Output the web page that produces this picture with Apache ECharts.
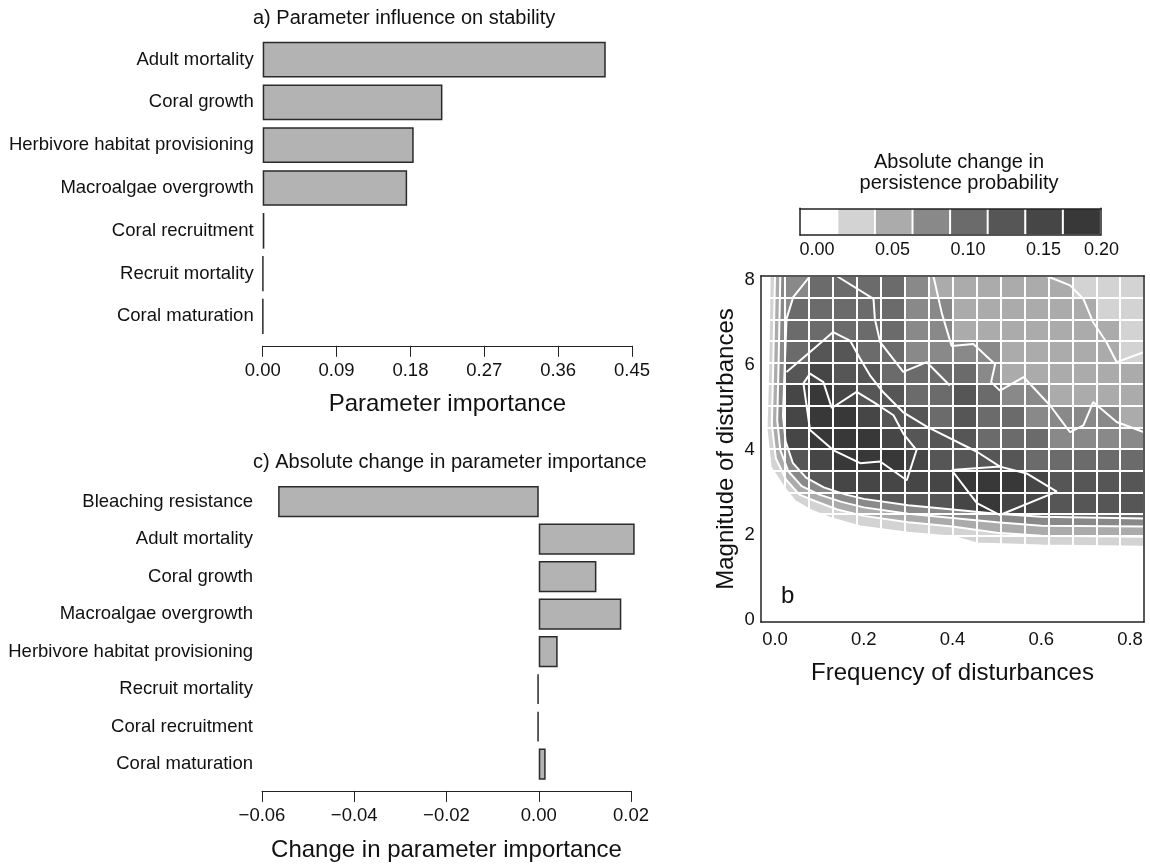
<!DOCTYPE html>
<html><head><meta charset="utf-8">
<script src="https://cdn.jsdelivr.net/npm/echarts@6.0.0/dist/echarts.min.js"></script>
<style>html,body{margin:0;padding:0;background:#fff}#c{width:1150px;height:865px}</style>
</head><body><div id="c"></div><script>
// ---------- Panel a ----------
const paramsA = ['Adult mortality','Coral growth','Herbivore habitat provisioning','Macroalgae overgrowth','Coral recruitment','Recruit mortality','Coral maturation'];
const importanceA = [0.418, 0.219, 0.184, 0.176, 0.002, 0.0005, 0.0004];
// ---------- Panel c ----------
const paramsC = ['Bleaching resistance','Adult mortality','Coral growth','Macroalgae overgrowth','Herbivore habitat provisioning','Recruit mortality','Coral recruitment','Coral maturation'];
const changeC = [-0.0565, 0.0208, 0.0125, 0.0179, 0.0041, -0.0003, -0.0003, 0.0015];
// ---------- Panel b ----------
const freqTicks = [0.0, 0.2, 0.4, 0.6, 0.8];
const magTicks = [0, 2, 4, 6, 8];
const freqCells = [-0.005,0.049,0.103,0.157,0.211,0.265,0.319,0.373,0.427,0.481,0.535,0.589,0.643,0.697,0.751,0.805];
const magCells = [0.20,0.71,1.22,1.73,2.24,2.75,3.26,3.77,4.28,4.78,5.29,5.80,6.31,6.82,7.33,7.84];
// absolute change in persistence probability per cell, rows from magnitude 7.84 (top) to 0.20 (bottom)
const mag784 = [0.04,0.09,0.11,0.11,0.11,0.11,0.09,0.06,0.06,0.06,0.06,0.06,0.06,0.04,0.04,0.04];
const mag733 = [0.04,0.11,0.11,0.11,0.11,0.11,0.09,0.09,0.06,0.06,0.06,0.06,0.06,0.06,0.04,0.04];
const mag682 = [0.06,0.11,0.11,0.11,0.11,0.11,0.09,0.09,0.06,0.06,0.06,0.06,0.06,0.06,0.06,0.04];
const mag631 = [0.06,0.11,0.14,0.14,0.11,0.11,0.09,0.09,0.09,0.09,0.06,0.06,0.06,0.06,0.06,0.04];
const mag580 = [0.06,0.14,0.16,0.14,0.14,0.11,0.11,0.11,0.11,0.09,0.06,0.06,0.06,0.06,0.06,0.06];
const mag529 = [0.09,0.16,0.19,0.16,0.14,0.14,0.11,0.11,0.14,0.11,0.09,0.09,0.06,0.06,0.06,0.06];
const mag478 = [0.09,0.16,0.19,0.19,0.16,0.14,0.14,0.11,0.14,0.11,0.11,0.09,0.09,0.09,0.09,0.06];
const mag428 = [0.09,0.16,0.19,0.19,0.19,0.16,0.14,0.14,0.14,0.11,0.11,0.11,0.09,0.09,0.09,0.09];
const mag377 = [0.09,0.14,0.16,0.19,0.19,0.19,0.16,0.14,0.14,0.14,0.14,0.11,0.11,0.11,0.11,0.11];
const mag326 = [0.06,0.11,0.14,0.16,0.16,0.16,0.16,0.16,0.19,0.19,0.19,0.16,0.14,0.14,0.14,0.14];
const mag275 = [0.04,0.06,0.11,0.14,0.14,0.14,0.14,0.14,0.16,0.19,0.16,0.16,0.14,0.14,0.14,0.14];
const mag224 = [0.01,0.04,0.06,0.09,0.11,0.11,0.11,0.11,0.11,0.11,0.11,0.11,0.11,0.11,0.11,0.11];
const mag173 = [0.01,0.01,0.01,0.04,0.04,0.04,0.04,0.04,0.04,0.04,0.04,0.04,0.04,0.04,0.04,0.04];
const mag122 = [0.01,0.01,0.01,0.01,0.01,0.01,0.01,0.01,0.01,0.01,0.01,0.01,0.01,0.01,0.01,0.01];
const mag071 = [0.01,0.01,0.01,0.01,0.01,0.01,0.01,0.01,0.01,0.01,0.01,0.01,0.01,0.01,0.01,0.01];
const mag020 = [0.01,0.01,0.01,0.01,0.01,0.01,0.01,0.01,0.01,0.01,0.01,0.01,0.01,0.01,0.01,0.01];
const rowsTopDown = [mag784,mag733,mag682,mag631,mag580,mag529,mag478,mag428,mag377,mag326,mag275,mag224,mag173,mag122,mag071,mag020];
// contour lines, [frequency, magnitude]
const fan0 = [[-0.012,8.1],[-0.015,6.0],[-0.019,4.5],[-0.01,3.6],[0.019,3.14],[0.045,2.8],[0.079,2.59],[0.13,2.38],[0.192,2.2],[0.3,2.05],[0.402,1.96],[0.455,1.8],[0.6,1.75],[0.832,1.72]];
const fan1 = [[0.0,8.1],[-0.004,6.0],[-0.007,4.6],[0.002,3.8],[0.025,3.3],[0.055,2.95],[0.09,2.8],[0.14,2.6],[0.2,2.45],[0.3,2.3],[0.4,2.2],[0.5,2.05],[0.6,1.98],[0.832,1.96]];
const fan2 = [[0.012,8.1],[0.008,6.0],[0.005,4.7],[0.012,4.0],[0.03,3.5],[0.06,3.15],[0.1,2.95],[0.15,2.78],[0.2,2.65],[0.3,2.5],[0.4,2.4],[0.5,2.3],[0.6,2.22],[0.832,2.2]];
const fan3 = [[0.079,8.1],[0.041,7.6],[0.026,7.09],[0.022,6.0],[0.018,4.8],[0.024,4.2],[0.04,3.7],[0.07,3.35],[0.11,3.12],[0.16,2.95],[0.2,2.85],[0.3,2.7],[0.4,2.6],[0.5,2.5],[0.6,2.43],[0.832,2.39]];
const lineTopL1 = [[0.612,8.1],[0.665,7.88],[0.695,7.56],[0.717,7.01],[0.747,6.54],[0.77,6.07],[0.832,6.31]];
const lineTopL2 = [[0.357,8.1],[0.376,7.22],[0.398,6.45],[0.447,6.5],[0.496,6.02],[0.487,5.6],[0.507,5.4],[0.56,5.72],[0.62,5.05],[0.642,4.74],[0.665,4.42],[0.695,4.58],[0.717,5.13],[0.77,4.66],[0.832,4.42]];
const lineUpperL4 = [[0.139,8.1],[0.222,7.56],[0.225,7.09],[0.237,6.54],[0.289,5.84],[0.342,6.07],[0.394,5.52]];
const lineL5 = [[0.026,5.84],[0.079,6.31],[0.131,6.78],[0.169,6.58],[0.192,6.15],[0.214,5.76],[0.244,5.36],[0.289,4.89],[0.342,4.55],[0.455,3.96],[0.507,3.61]];
const loopDarkest = [[0.064,5.57],[0.079,5.8],[0.109,5.6],[0.128,4.99],[0.184,5.37],[0.222,5.13],[0.267,4.82],[0.289,4.39],[0.319,4.0],[0.297,3.29],[0.237,3.73],[0.192,3.69],[0.131,4.0],[0.079,4.47],[0.064,5.57]];
const loopBlob = [[0.398,3.53],[0.507,3.61],[0.567,3.45],[0.635,3.02],[0.507,2.47],[0.455,2.75],[0.398,3.53]];
// ---------- Colour key ----------
const keyBins = [0.0125,0.0375,0.0625,0.0875,0.1125,0.1375,0.1625,0.1875];
const keyColors = ['#ffffff','#d3d3d3','#ababab','#898989','#6b6b6b','#565656','#464646','#383838'];
const keyBreaks = [0, 0.025, 0.05, 0.075, 0.1, 0.125, 0.15, 0.175, 0.2];

const FONT = '"Liberation Sans", Arial, Helvetica, sans-serif';
const TXT = '#111';
const X0 = -0.032, X1 = 0.832, Y0 = -0.05, Y1 = 8.1;
const heatData = [];
rowsTopDown.forEach((row, r) => row.forEach((v, c) => heatData.push([c, rowsTopDown.length - 1 - r, v])));
const keyData = keyBins.map((v, i) => [i, 0, v]);
const minus = v => (Math.abs(v) < 1e-9 ? '0.00' : (v < 0 ? '\u2212' + Math.abs(v).toFixed(2) : v.toFixed(2)));

const lineOnly = {axisLine:{show:true,onZero:false,lineStyle:{color:'#222',width:1.5}},axisTick:{show:false},axisLabel:{show:false},splitLine:{show:false},z:5};
const gridLinesOnly = {axisLine:{show:false},axisTick:{show:false},axisLabel:{show:false},splitLine:{show:true,interval:0,lineStyle:{color:'#ffffff',width:2}},z:4};
const lbl = {fontFamily:FONT,fontSize:18.5,color:TXT};

const polyWhite = [[X0,Y1]].concat(fan0, [[X1,Y0],[X0,Y0]]);
const strip = (a, b) => a.concat(b.slice().reverse());
const polygons = [
  {pts: polyWhite, fill: keyColors[0]},
  {pts: strip(fan0, fan1), fill: keyColors[1]},
  {pts: strip(fan1, fan2), fill: keyColors[2]},
  {pts: strip(fan2, fan3), fill: keyColors[3]}
];
const polySeries = polygons.map(p => ({
  type:'custom', coordinateSystem:'cartesian2d', xAxisIndex:2, yAxisIndex:2, silent:true, z:2,
  data:[0],
  renderItem:(params, api) => ({type:'polygon', shape:{points:p.pts.map(q => api.coord(q))}, style:{fill:p.fill, stroke:null}})
}));
const contourLines = [fan0, fan1, fan2, fan3, lineTopL1, lineTopL2, lineUpperL4, lineL5, loopDarkest, loopBlob];
const lineSeries = contourLines.map(d => ({
  type:'line', xAxisIndex:2, yAxisIndex:2, data:d, showSymbol:false, symbol:'none', silent:true, z:3,
  lineStyle:{color:'#ffffff', width:2}, animation:false
}));

const option = {
  animation:false,
  textStyle:{fontFamily:FONT},
  title:[
    {text:'a) Parameter influence on stability',left:253,top:8,padding:0,textStyle:{fontFamily:FONT,fontSize:20,fontWeight:'normal',color:TXT}},
    {text:'c) Absolute change in parameter importance',left:253,top:452,padding:0,textStyle:{fontFamily:FONT,fontSize:20,fontWeight:'normal',color:TXT}},
    {text:'Absolute change in\npersistence probability',left:959,textAlign:'center',top:152,padding:0,textStyle:{fontFamily:FONT,fontSize:20,fontWeight:'normal',color:TXT,lineHeight:21}},
    {text:'b',left:781,top:584,padding:0,textStyle:{fontFamily:FONT,fontSize:24,fontWeight:'normal',color:TXT}}
  ],
  grid:[
    {left:262.7,right:518,top:38.2,height:299.6},
    {left:262,right:519,top:482.9,height:300},
    {left:760.8,right:5.8,top:276,bottom:243},
    {left:800,right:49.3,top:208.3,height:26.7},
    {left:817,right:31,top:228,height:7}
  ],
  visualMap:{type:'piecewise',show:false,seriesIndex:[2,3],dimension:2,
    pieces:keyColors.map((c,i)=>({gte:keyBreaks[i],lt:keyBreaks[i+1],color:c}))},
  xAxis:[
    {type:'value',gridIndex:0,min:0,max:0.45,interval:0.09,offset:8,
     axisLine:{show:true,onZero:false,lineStyle:{color:'#222',width:1}},
     axisTick:{show:true,length:11,lineStyle:{color:'#222'}},splitLine:{show:false},
     axisLabel:Object.assign({margin:16,formatter:v=>v.toFixed(2)},lbl),
     name:'Parameter importance',nameLocation:'middle',nameGap:47,nameTextStyle:{fontFamily:FONT,fontSize:24,color:TXT}},
    {type:'value',gridIndex:1,min:-0.06,max:0.02,interval:0.02,offset:8,
     axisLine:{show:true,onZero:false,lineStyle:{color:'#222',width:1}},
     axisTick:{show:true,length:11,lineStyle:{color:'#222'}},splitLine:{show:false},
     axisLabel:Object.assign({margin:16,formatter:minus},lbl),
     name:'Change in parameter importance',nameLocation:'middle',nameGap:47,nameTextStyle:{fontFamily:FONT,fontSize:24,color:TXT}},
    {type:'value',gridIndex:2,min:X0,max:X1,
     axisLine:{show:true,onZero:false,lineStyle:{color:'#222',width:1.5}},axisTick:{show:false},splitLine:{show:false},
     axisLabel:Object.assign({margin:8,customValues:freqTicks,formatter:v=>v.toFixed(1)},lbl),z:5,
     name:'Frequency of disturbances',nameLocation:'middle',nameGap:39,nameTextStyle:{fontFamily:FONT,fontSize:24,color:TXT}},
    Object.assign({type:'value',gridIndex:2,position:'top',min:X0,max:X1},lineOnly),
    Object.assign({type:'category',gridIndex:2,data:freqCells},gridLinesOnly),
    Object.assign({type:'category',gridIndex:3,data:keyBins,position:'bottom'},lineOnly),
    Object.assign({type:'category',gridIndex:3,data:keyBins,position:'top'},lineOnly),
    {type:'value',gridIndex:4,min:0,max:0.2,interval:0.05,axisLine:{show:false},axisTick:{show:false},splitLine:{show:false},
     axisLabel:Object.assign({margin:6,alignMaxLabel:'right',formatter:v=>v.toFixed(2)},lbl,{fontSize:18})}
  ],
  yAxis:[
    {type:'category',gridIndex:0,data:paramsA,inverse:true,axisLine:{show:false,onZero:false},axisTick:{show:false},
     axisLabel:Object.assign({margin:9},lbl)},
    {type:'category',gridIndex:1,data:paramsC,inverse:true,axisLine:{show:false,onZero:false},axisTick:{show:false},
     axisLabel:Object.assign({margin:9},lbl)},
    {type:'value',gridIndex:2,min:Y0,max:Y1,
     axisLine:{show:true,onZero:false,lineStyle:{color:'#222',width:1.5}},axisTick:{show:false},splitLine:{show:false},
     axisLabel:Object.assign({margin:6,customValues:magTicks,formatter:v=>String(v)},lbl),z:5,
     name:'Magnitude of disturbances',nameLocation:'middle',nameGap:22,nameTextStyle:{fontFamily:FONT,fontSize:24,color:TXT}},
    Object.assign({type:'value',gridIndex:2,position:'right',min:Y0,max:Y1},lineOnly),
    Object.assign({type:'category',gridIndex:2,data:magCells},gridLinesOnly),
    Object.assign({type:'category',gridIndex:3,data:['key'],position:'left'},lineOnly),
    Object.assign({type:'category',gridIndex:3,data:['key'],position:'right'},lineOnly),
    {type:'value',gridIndex:4,show:false,min:0,max:1}
  ],
  series:[
    {type:'bar',xAxisIndex:0,yAxisIndex:0,data:importanceA,barCategoryGap:'16.7%',clip:false,silent:true,
     itemStyle:{color:'#b3b3b3',borderColor:'#2a2a2a',borderWidth:1.5}},
    {type:'bar',xAxisIndex:1,yAxisIndex:1,data:changeC,barCategoryGap:'16.7%',clip:false,silent:true,
     itemStyle:{color:'#b3b3b3',borderColor:'#2a2a2a',borderWidth:1.5}},
    {type:'heatmap',xAxisIndex:4,yAxisIndex:4,data:heatData,silent:true,z:1,
     itemStyle:{borderWidth:0}},
    {type:'heatmap',xAxisIndex:5,yAxisIndex:5,data:keyData,silent:true,
     itemStyle:{borderColor:'#ffffff',borderWidth:2}}
  ].concat(polySeries, lineSeries)
};
const chart = echarts.init(document.getElementById('c'), null, {renderer:'canvas'});
chart.setOption(option);
</script></body></html>
